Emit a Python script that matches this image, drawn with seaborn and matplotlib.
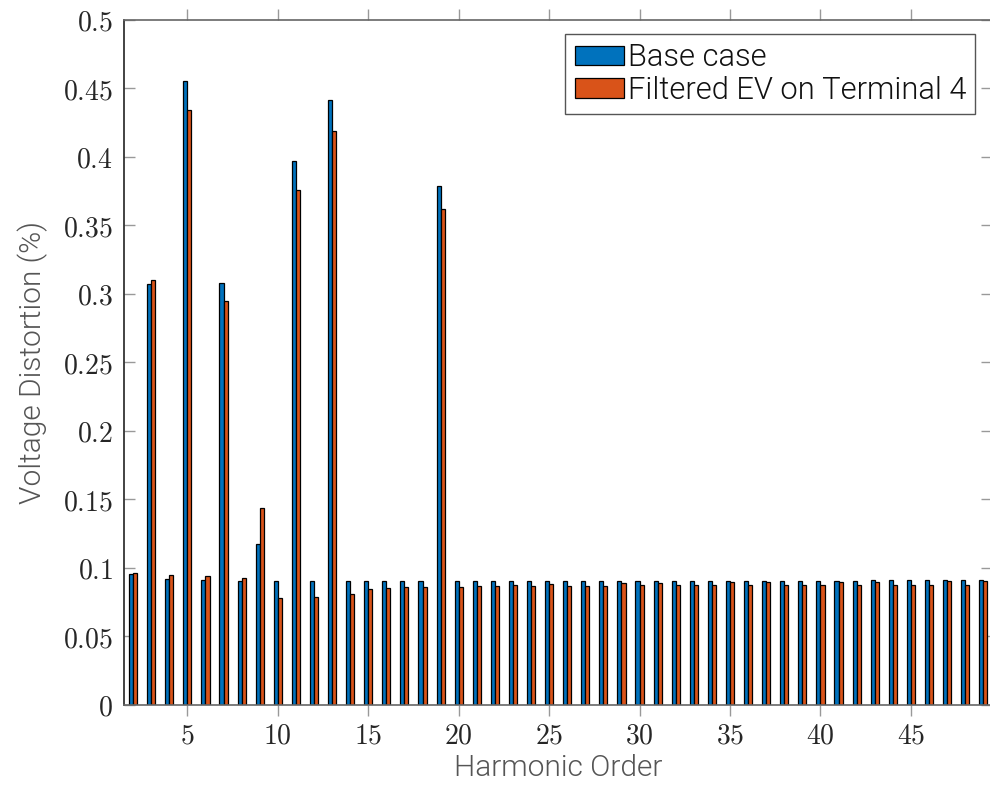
import pandas as pd
import matplotlib
matplotlib.use("Agg")
import matplotlib.pyplot as plt
import seaborn as sns
from matplotlib.ticker import FuncFormatter, MultipleLocator
from matplotlib.patches import Patch

# harmonic orders and distortion values
harmonics = list(range(2, 50))
base_case = [0.0956, 0.307, 0.092, 0.4557, 0.091, 0.3078, 0.0907, 0.1175, 0.0903, 0.3968,
             0.0903, 0.4416, 0.0903, 0.0903, 0.0903, 0.0903, 0.0903, 0.3786, 0.0903, 0.0903,
             0.0903, 0.0903, 0.0903, 0.0903, 0.0903, 0.0903, 0.0903, 0.0903, 0.0903, 0.0903,
             0.0903, 0.0903, 0.0903, 0.0905, 0.0903, 0.0907, 0.0903, 0.0903, 0.0903, 0.0907,
             0.0903, 0.0910, 0.0910, 0.0910, 0.0910, 0.0910, 0.0910, 0.0910]
filtered_ev = [0.0963, 0.310, 0.0946, 0.434, 0.094, 0.2946, 0.0925, 0.1438, 0.0783, 0.3757,
               0.079, 0.4187, 0.081, 0.0847, 0.0856, 0.086, 0.086, 0.3618, 0.0864, 0.0866,
               0.0866, 0.0878, 0.0866, 0.0880, 0.0871, 0.0871, 0.0871, 0.0888, 0.0873, 0.0891,
               0.0873, 0.0873, 0.0873, 0.0895, 0.0873, 0.0895, 0.0873, 0.0873, 0.0873, 0.0895,
               0.0873, 0.0898, 0.0876, 0.0876, 0.0876, 0.0903, 0.0876, 0.0903]
series_names = ["Base case", "Filtered EV on Terminal 4"]
colors = ["#0072BD", "#D95319"]

df = pd.DataFrame({
    "order": harmonics * 2,
    "dist": base_case + filtered_ev,
    "case": [series_names[0]] * len(harmonics) + [series_names[1]] * len(harmonics),
})

sns.set_style("white")
plt.rcParams["mathtext.fontset"] = "cm"
label_font = ["Roboto", "DejaVu Sans"]

fig = plt.figure(figsize=(9.9, 7.93), dpi=100)
ax = fig.add_axes([0.1253, 0.111, 0.877, 0.8638])

sns.barplot(data=df, x="order", y="dist", hue="case", hue_order=series_names,
            palette=colors, native_scale=True, width=0.45, gap=0, saturation=1,
            edgecolor="black", linewidth=0.9, ax=ax, legend=False)

ax.set_xlim(1.5, 49.5)
ax.set_ylim(0, 0.5)
ax.xaxis.set_major_locator(MultipleLocator(5))
ax.yaxis.set_major_locator(MultipleLocator(0.05))
ax.xaxis.set_major_formatter(FuncFormatter(lambda v, p: f"${v:g}$"))
ax.yaxis.set_major_formatter(FuncFormatter(lambda v, p: f"${v:g}$"))

ax.tick_params(axis="x", direction="out", top=True, bottom=True, length=8,
               width=1, color="#999999", labelsize=20, pad=4)
ax.tick_params(axis="y", direction="in", left=True, right=True, length=8,
               width=1, color="#999999", labelsize=20, pad=8)

for side in ["top", "bottom", "left", "right"]:
    ax.spines[side].set_linewidth(1.2)
ax.spines["left"].set_color("#222222")
ax.spines["top"].set_color("#666666")
ax.spines["bottom"].set_color("#666666")
ax.spines["right"].set_color("#666666")

ax.set_xlabel("Harmonic Order", fontsize=21.5, family=label_font, weight=300,
              color="#555555", labelpad=3)
ax.set_ylabel("Voltage Distortion (%)", fontsize=21.5, family=label_font, weight=300,
              color="#555555", labelpad=11)

handles = [Patch(facecolor=c, edgecolor="black", linewidth=0.9) for c in colors]
leg = ax.legend(handles, series_names, loc="upper right", bbox_to_anchor=(0.9804, 0.9796),
                fancybox=False, framealpha=1, edgecolor="#555555", handlelength=1.6,
                handleheight=0.6, handletextpad=0.12, borderpad=0.3, labelspacing=0.12,
                borderaxespad=0.0, prop={"family": label_font, "weight": 300, "size": 22.2})
leg.get_frame().set_linewidth(1.0)
for t in leg.get_texts():
    t.set_color("#111111")

fig.savefig("out.png", dpi=100)
